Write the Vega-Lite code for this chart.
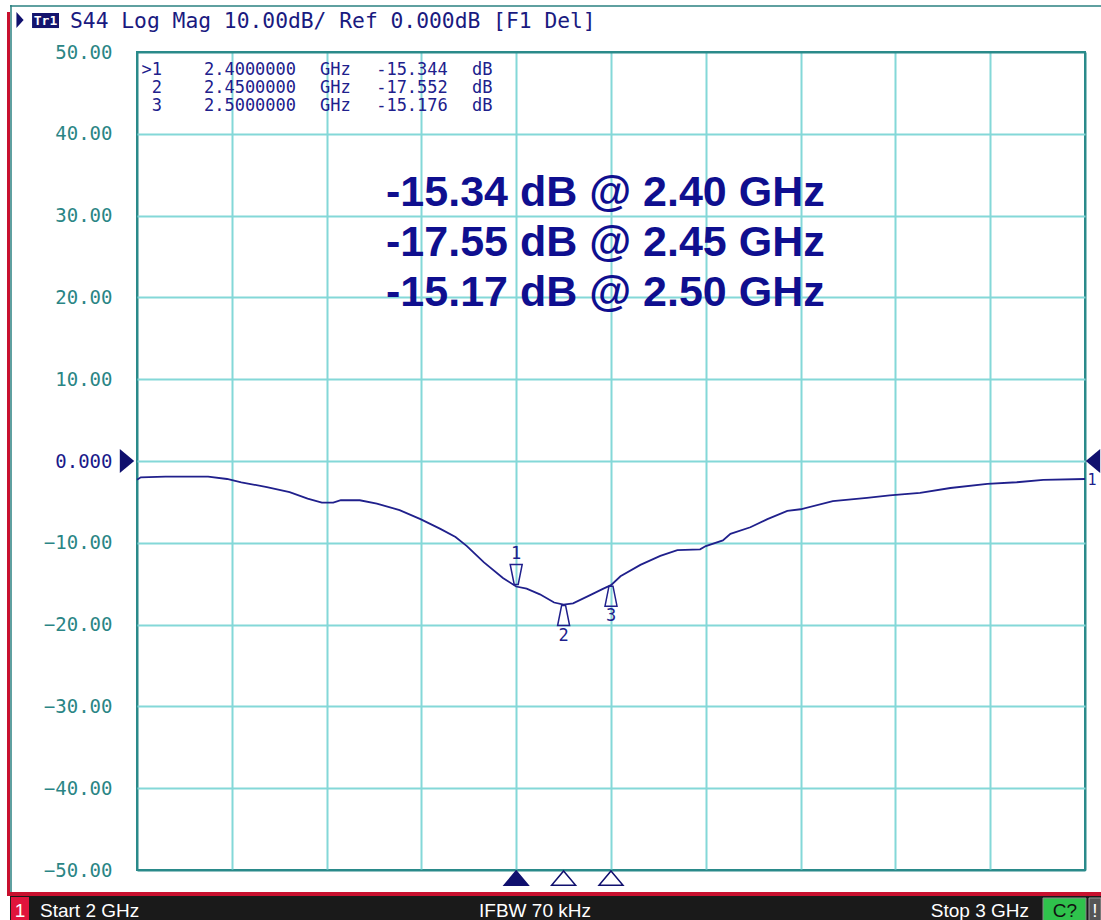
{
  "$schema": "https://vega.github.io/schema/vega-lite/v6.json",
  "width": 948,
  "height": 818,
  "autosize": {"type": "none"},
  "padding": {"left": 137, "top": 52, "right": 16, "bottom": 50},
  "background": "white",
  "config": {"view": {"stroke": "#2a8a8a", "strokeWidth": 2}, "font": "DejaVu Sans Mono"},
  "datasets": {
    "trace": [
      {"f": 2.000, "db": -2.3}, {"f": 2.004, "db": -2.0}, {"f": 2.030, "db": -1.9}, {"f": 2.075, "db": -1.9},
      {"f": 2.095, "db": -2.2}, {"f": 2.110, "db": -2.6}, {"f": 2.137, "db": -3.2}, {"f": 2.161, "db": -3.8},
      {"f": 2.180, "db": -4.6}, {"f": 2.195, "db": -5.1}, {"f": 2.207, "db": -5.1}, {"f": 2.215, "db": -4.8},
      {"f": 2.235, "db": -4.8}, {"f": 2.253, "db": -5.2}, {"f": 2.277, "db": -6.0}, {"f": 2.299, "db": -7.1},
      {"f": 2.320, "db": -8.3}, {"f": 2.336, "db": -9.3}, {"f": 2.348, "db": -10.4}, {"f": 2.356, "db": -11.3},
      {"f": 2.366, "db": -12.4}, {"f": 2.386, "db": -14.3}, {"f": 2.400, "db": -15.344}, {"f": 2.411, "db": -15.6},
      {"f": 2.425, "db": -16.3}, {"f": 2.440, "db": -17.3}, {"f": 2.450, "db": -17.552}, {"f": 2.460, "db": -17.4},
      {"f": 2.478, "db": -16.4}, {"f": 2.492, "db": -15.6}, {"f": 2.500, "db": -15.176}, {"f": 2.510, "db": -14.1},
      {"f": 2.531, "db": -12.7}, {"f": 2.552, "db": -11.6}, {"f": 2.570, "db": -10.9}, {"f": 2.594, "db": -10.8},
      {"f": 2.600, "db": -10.4}, {"f": 2.618, "db": -9.7}, {"f": 2.626, "db": -8.9}, {"f": 2.647, "db": -8.1},
      {"f": 2.665, "db": -7.1}, {"f": 2.686, "db": -6.1}, {"f": 2.700, "db": -5.9}, {"f": 2.734, "db": -4.9},
      {"f": 2.770, "db": -4.5}, {"f": 2.794, "db": -4.2}, {"f": 2.826, "db": -3.9}, {"f": 2.858, "db": -3.3},
      {"f": 2.897, "db": -2.8}, {"f": 2.928, "db": -2.6}, {"f": 2.956, "db": -2.3}, {"f": 3.000, "db": -2.2}
    ],
    "markers": [
      {"m": 1, "f": 2.40, "db": -15.344},
      {"m": 2, "f": 2.45, "db": -17.552},
      {"m": 3, "f": 2.50, "db": -15.176}
    ],
    "one": [{}]
  },
  "layer": [
    {
      "data": {"name": "trace"},
      "mark": {"type": "line", "color": "#20208c", "strokeWidth": 1.8},
      "encoding": {
        "x": {"field": "f", "type": "quantitative", "title": null,
          "scale": {"domain": [2, 3], "nice": false, "zero": false},
          "axis": {"values": [2, 2.1, 2.2, 2.3, 2.4, 2.5, 2.6, 2.7, 2.8, 2.9, 3], "labels": false, "ticks": false, "domain": false, "title": null,
            "gridWidth": 2, "gridOpacity": 1,
            "gridColor": {"condition": {"test": "datum.value < 2.001 || datum.value > 2.999", "value": "#2a8a8a"}, "value": "#84d8d8"}}},
        "y": {"field": "db", "type": "quantitative", "title": null,
          "scale": {"domain": [-50, 50], "nice": false, "zero": false},
          "axis": {"values": [-50, -40, -30, -20, -10, 0, 10, 20, 30, 40, 50], "ticks": false, "domain": false, "title": null,
            "labelExpr": "datum.value === 0 ? '0.000' : format(datum.value, '.2f')",
            "labelFont": "DejaVu Sans Mono", "labelFontSize": 19, "labelPadding": 25, "labelFlush": false, "labelOverlap": false,
            "labelColor": {"condition": {"test": "datum.value === 0", "value": "#1a1a8a"}, "value": "#2a8585"},
            "gridWidth": 2, "gridOpacity": 1,
            "gridColor": {"condition": {"test": "abs(datum.value) > 49.9", "value": "#2a8a8a"}, "value": "#84d8d8"}}}
      }
    },
    {
      "data": {"name": "markers"},
      "transform": [{"filter": "datum.m === 1"}],
      "mark": {"type": "point", "shape": "M-0.6,-1L0.6,-1L0.2,1L-0.2,1Z", "size": 400, "filled": false, "stroke": "#20208c", "strokeWidth": 1.5, "opacity": 1, "yOffset": -12},
      "encoding": {"x": {"field": "f", "type": "quantitative"}, "y": {"field": "db", "type": "quantitative"}}
    },
    {
      "data": {"name": "markers"},
      "transform": [{"filter": "datum.m !== 1"}],
      "mark": {"type": "point", "shape": "M-0.2,-1L0.2,-1L0.6,1L-0.6,1Z", "size": 400, "filled": false, "stroke": "#20208c", "strokeWidth": 1.5, "opacity": 1, "yOffset": 11},
      "encoding": {"x": {"field": "f", "type": "quantitative"}, "y": {"field": "db", "type": "quantitative"}}
    },
    {
      "data": {"name": "markers"},
      "transform": [{"filter": "datum.m === 1"}],
      "mark": {"type": "text", "font": "DejaVu Sans Mono", "fontSize": 17, "color": "#20208c", "baseline": "middle", "align": "center", "yOffset": -33},
      "encoding": {"x": {"field": "f", "type": "quantitative"}, "y": {"field": "db", "type": "quantitative"}, "text": {"field": "m"}}
    },
    {
      "data": {"name": "markers"},
      "transform": [{"filter": "datum.m !== 1"}],
      "mark": {"type": "text", "font": "DejaVu Sans Mono", "fontSize": 17, "color": "#20208c", "baseline": "middle", "align": "center", "yOffset": 31},
      "encoding": {"x": {"field": "f", "type": "quantitative"}, "y": {"field": "db", "type": "quantitative"}, "text": {"field": "m"}}
    },
    {
      "data": {"name": "markers"},
      "mark": {"type": "point", "shape": "M0,-0.6L1,0.6L-1,0.6Z", "size": 576, "stroke": "#10106e", "strokeWidth": 1.5, "opacity": 1},
      "encoding": {
        "x": {"field": "f", "type": "quantitative"},
        "y": {"datum": -50.99, "type": "quantitative"},
        "fill": {"condition": {"test": "datum.m === 1", "value": "#10106e"}, "value": "white"}
      }
    },
    {
      "data": {"name": "one"},
      "mark": {"type": "text", "font": "DejaVu Sans Mono", "fontSize": 17, "color": "#20208c", "align": "right", "baseline": "alphabetic", "lineHeight": 18,
        "text": [">1", "2", "3"]},
      "encoding": {"x": {"datum": 2.02637, "type": "quantitative"}, "y": {"datum": 47.13, "type": "quantitative"}}
    },
    {
      "data": {"name": "one"},
      "mark": {"type": "text", "font": "DejaVu Sans Mono", "fontSize": 17, "color": "#20208c", "align": "center", "baseline": "alphabetic", "lineHeight": 18,
        "text": ["2.4000000", "2.4500000", "2.5000000"]},
      "encoding": {"x": {"datum": 2.1192, "type": "quantitative"}, "y": {"datum": 47.13, "type": "quantitative"}}
    },
    {
      "data": {"name": "one"},
      "mark": {"type": "text", "font": "DejaVu Sans Mono", "fontSize": 17, "color": "#20208c", "align": "left", "baseline": "alphabetic", "lineHeight": 18,
        "text": ["GHz", "GHz", "GHz"]},
      "encoding": {"x": {"datum": 2.19304, "type": "quantitative"}, "y": {"datum": 47.13, "type": "quantitative"}}
    },
    {
      "data": {"name": "one"},
      "mark": {"type": "text", "font": "DejaVu Sans Mono", "fontSize": 17, "color": "#20208c", "align": "center", "baseline": "alphabetic", "lineHeight": 18,
        "text": ["-15.344", "-17.552", "-15.176"]},
      "encoding": {"x": {"datum": 2.29008, "type": "quantitative"}, "y": {"datum": 47.13, "type": "quantitative"}}
    },
    {
      "data": {"name": "one"},
      "mark": {"type": "text", "font": "DejaVu Sans Mono", "fontSize": 17, "color": "#20208c", "align": "left", "baseline": "alphabetic", "lineHeight": 18,
        "text": ["dB", "dB", "dB"]},
      "encoding": {"x": {"datum": 2.35338, "type": "quantitative"}, "y": {"datum": 47.13, "type": "quantitative"}}
    },
    {
      "data": {"name": "one"},
      "mark": {"type": "text", "font": "Liberation Sans", "fontWeight": "bold", "fontSize": 43, "color": "#0f0f8f", "align": "left", "baseline": "alphabetic", "lineHeight": 50,
        "text": ["-15.34 dB @ 2.40 GHz", "-17.55 dB @ 2.45 GHz", "-15.17 dB @ 2.50 GHz"]},
      "encoding": {"x": {"datum": 2.2627, "type": "quantitative"}, "y": {"datum": 31.17, "type": "quantitative"}}
    },
    {
      "data": {"name": "one"},
      "mark": {"type": "point", "shape": "M-0.6,-1L0.6,0L-0.6,1Z", "size": 576, "filled": true, "color": "#10106e", "opacity": 1},
      "encoding": {"x": {"datum": 1.98945, "type": "quantitative"}, "y": {"datum": 0, "type": "quantitative"}}
    },
    {
      "data": {"name": "one"},
      "mark": {"type": "point", "shape": "M0.6,-1L-0.6,0L0.6,1Z", "size": 576, "filled": true, "color": "#10106e", "opacity": 1},
      "encoding": {"x": {"datum": 3.00844, "type": "quantitative"}, "y": {"datum": 0, "type": "quantitative"}}
    },
    {
      "data": {"name": "one"},
      "mark": {"type": "text", "text": "1", "font": "DejaVu Sans Mono", "fontSize": 15, "color": "#20208c", "align": "center", "baseline": "middle"},
      "encoding": {"x": {"datum": 3.0074, "type": "quantitative"}, "y": {"datum": -2.3, "type": "quantitative"}}
    },
    {
      "data": {"name": "one"},
      "mark": {"type": "point", "shape": "M-0.45,-1L0.45,0L-0.45,1Z", "size": 256, "filled": true, "color": "#10106e", "opacity": 1},
      "encoding": {"x": {"datum": 1.8766, "type": "quantitative"}, "y": {"datum": 53.91, "type": "quantitative"}}
    },
    {
      "data": {"name": "one"},
      "mark": {"type": "rect", "color": "#14146e"},
      "encoding": {"x": {"datum": 1.8893, "type": "quantitative"}, "x2": {"datum": 1.9177}, "y": {"datum": 54.77, "type": "quantitative"}, "y2": {"datum": 52.93}}
    },
    {
      "data": {"name": "one"},
      "mark": {"type": "text", "text": "Tr1", "font": "DejaVu Sans Mono", "fontWeight": "bold", "fontSize": 13, "color": "white", "align": "center", "baseline": "middle"},
      "encoding": {"x": {"datum": 1.9035, "type": "quantitative"}, "y": {"datum": 53.85, "type": "quantitative"}}
    },
    {
      "data": {"name": "one"},
      "mark": {"type": "text", "text": "S44 Log Mag 10.00dB/ Ref 0.000dB [F1 Del]", "font": "DejaVu Sans Mono", "fontSize": 21.3, "color": "#1a1a80", "align": "left", "baseline": "alphabetic"},
      "encoding": {"x": {"datum": 1.92932, "type": "quantitative"}, "y": {"datum": 52.93, "type": "quantitative"}}
    },
    {
      "data": {"name": "one"},
      "mark": {"type": "rect", "color": "#1a1a1a"},
      "encoding": {"x": {"datum": 1.86603, "type": "quantitative"}, "x2": {"datum": 3.01688}, "y": {"datum": -53.178, "type": "quantitative"}, "y2": {"datum": -56.2}}
    },
    {
      "data": {"name": "one"},
      "mark": {"type": "rect", "color": "#c8102e"},
      "encoding": {"x": {"datum": 1.86287, "type": "quantitative"}, "x2": {"datum": 3.01688}, "y": {"datum": -52.689, "type": "quantitative"}, "y2": {"datum": -53.178}}
    },
    {
      "data": {"name": "one"},
      "mark": {"type": "rect", "color": "#c8102e"},
      "encoding": {"x": {"datum": 1.86287, "type": "quantitative"}, "x2": {"datum": 1.86603}, "y": {"datum": 54.89, "type": "quantitative"}, "y2": {"datum": -53.178}}
    },
    {
      "data": {"name": "one"},
      "mark": {"type": "rule", "color": "#2a8080", "strokeWidth": 1.5},
      "encoding": {"x": {"datum": 1.86709, "type": "quantitative"}, "y": {"datum": 55.75, "type": "quantitative"}, "y2": {"datum": -52.69}}
    },
    {
      "data": {"name": "one"},
      "mark": {"type": "rule", "color": "#2a8080", "strokeWidth": 1.5},
      "encoding": {"x": {"datum": 1.86603, "type": "quantitative"}, "x2": {"datum": 3.01688}, "y": {"datum": 55.62, "type": "quantitative"}}
    },
    {
      "data": {"name": "one"},
      "mark": {"type": "rect", "color": "#e0143c"},
      "encoding": {"x": {"datum": 1.86709, "type": "quantitative"}, "x2": {"datum": 1.88608}, "y": {"datum": -53.3, "type": "quantitative"}, "y2": {"datum": -56.2}}
    },
    {
      "data": {"name": "one"},
      "mark": {"type": "rect", "color": "#2fc24c", "stroke": "#8a8a8a", "strokeWidth": 1},
      "encoding": {"x": {"datum": 2.9557, "type": "quantitative"}, "x2": {"datum": 3.00105}, "y": {"datum": -53.42, "type": "quantitative"}, "y2": {"datum": -56.2}}
    },
    {
      "data": {"name": "one"},
      "mark": {"type": "rect", "color": "#555555", "stroke": "#9a9a9a", "strokeWidth": 1},
      "encoding": {"x": {"datum": 3.00422, "type": "quantitative"}, "x2": {"datum": 3.01688}, "y": {"datum": -53.42, "type": "quantitative"}, "y2": {"datum": -56.2}}
    },
    {
      "data": {"name": "one"},
      "mark": {"type": "text", "text": "1", "font": "Liberation Sans", "fontSize": 19, "color": "white", "align": "center", "baseline": "alphabetic"},
      "encoding": {"x": {"datum": 1.87658, "type": "quantitative"}, "y": {"datum": -55.74, "type": "quantitative"}}
    },
    {
      "data": {"name": "one"},
      "mark": {"type": "text", "text": "Start 2 GHz", "font": "Liberation Sans", "fontSize": 19, "color": "white", "align": "left", "baseline": "alphabetic"},
      "encoding": {"x": {"datum": 1.89768, "type": "quantitative"}, "y": {"datum": -55.74, "type": "quantitative"}}
    },
    {
      "data": {"name": "one"},
      "mark": {"type": "text", "text": "IFBW 70 kHz", "font": "Liberation Sans", "fontSize": 19, "color": "white", "align": "center", "baseline": "alphabetic"},
      "encoding": {"x": {"datum": 2.41983, "type": "quantitative"}, "y": {"datum": -55.74, "type": "quantitative"}}
    },
    {
      "data": {"name": "one"},
      "mark": {"type": "text", "text": "Stop 3 GHz", "font": "Liberation Sans", "fontSize": 19, "color": "white", "align": "right", "baseline": "alphabetic"},
      "encoding": {"x": {"datum": 2.94093, "type": "quantitative"}, "y": {"datum": -55.74, "type": "quantitative"}}
    },
    {
      "data": {"name": "one"},
      "mark": {"type": "text", "text": "C?", "font": "Liberation Sans", "fontSize": 19, "color": "#111111", "align": "center", "baseline": "alphabetic"},
      "encoding": {"x": {"datum": 2.9789, "type": "quantitative"}, "y": {"datum": -55.74, "type": "quantitative"}}
    },
    {
      "data": {"name": "one"},
      "mark": {"type": "text", "text": "!", "font": "Liberation Sans", "fontSize": 19, "color": "white", "align": "center", "baseline": "alphabetic"},
      "encoding": {"x": {"datum": 3.0105, "type": "quantitative"}, "y": {"datum": -55.74, "type": "quantitative"}}
    }
  ]
}
